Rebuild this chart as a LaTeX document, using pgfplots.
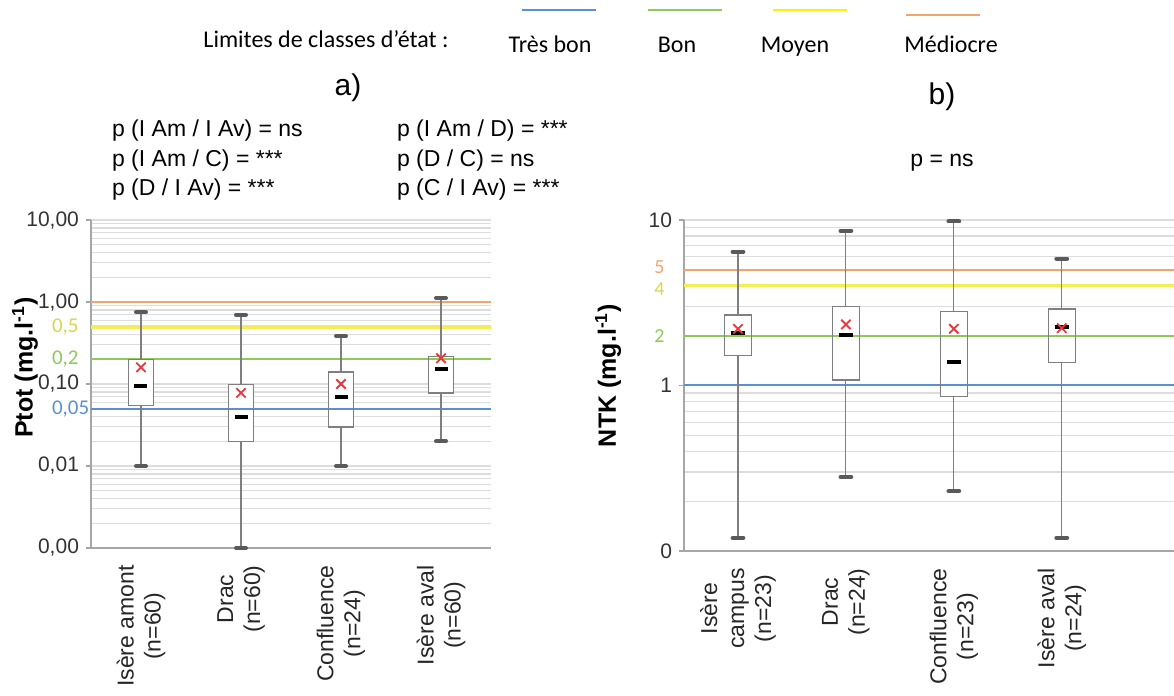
\documentclass[border=0pt]{standalone}
\usepackage{pgfplots}
\pgfplotsset{compat=1.18}
\usepackage{fontspec}
\setmainfont{Liberation Sans}
\newfontfamily\calibri{Carlito}
\definecolor{gridc}{HTML}{DDDDDD}
\definecolor{axisc}{HTML}{A6A6A6}
\definecolor{boxc}{HTML}{7F7F7F}
\definecolor{capc}{HTML}{5A5A5A}
\definecolor{meanc}{HTML}{E8383D}
\definecolor{tblue}{HTML}{5B8FD3}
\definecolor{tgreen}{HTML}{8FC95A}
\definecolor{tyellow}{HTML}{F2EE55}
\definecolor{lyellow}{HTML}{FFF200}
\definecolor{torange}{HTML}{F2A36E}

% #1 x, #2 q1, #3 q3
\newcommand{\bxfill}[3]{%
 \pgfmathsetmacro{\bxL}{#1-0.125}\pgfmathsetmacro{\bxR}{#1+0.125}%
 \edef\bxtmp{\noexpand\addplot[fill=white,draw=none,forget plot] coordinates {(\bxL,#2) (\bxR,#2) (\bxR,#3) (\bxL,#3)} -- cycle;}\bxtmp}
% #1 x, #2 lw, #3 q1, #4 med, #5 q3, #6 uw, #7 mean
\newcommand{\bxrest}[7]{%
 \pgfmathsetmacro{\bxL}{#1-0.125}\pgfmathsetmacro{\bxR}{#1+0.125}%
 \pgfmathsetmacro{\bxML}{#1-0.065}\pgfmathsetmacro{\bxMR}{#1+0.065}%
 \pgfmathsetmacro{\bxCL}{#1-0.05}\pgfmathsetmacro{\bxCR}{#1+0.05}%
 \edef\bxtmp{%
  \noexpand\addplot[draw=boxc,line width=0.7pt,forget plot] coordinates {(\bxL,#3) (\bxR,#3) (\bxR,#5) (\bxL,#5)} -- cycle;
  \noexpand\addplot[draw=boxc,line width=0.6pt,forget plot] coordinates {(#1,#2) (#1,#3)};
  \noexpand\addplot[draw=boxc,line width=0.6pt,forget plot] coordinates {(#1,#5) (#1,#6)};
  \noexpand\addplot[draw=capc,line width=2pt,line cap=round,forget plot] coordinates {(\bxCL,#2) (\bxCR,#2)};
  \noexpand\addplot[draw=capc,line width=2pt,line cap=round,forget plot] coordinates {(\bxCL,#6) (\bxCR,#6)};
  \noexpand\addplot[draw=black,line width=2pt,forget plot] coordinates {(\bxML,#4) (\bxMR,#4)};
  \noexpand\addplot[only marks,mark=x,mark size=3.3pt,mark options={draw=meanc,line width=0.9pt},forget plot] coordinates {(#1,#7)};
 }\bxtmp}

\pgfplotsset{
 panelstyle/.style={
  scale only axis, clip=false,
  axis x line*=bottom, axis y line*=left,
  axis line style={draw=axisc, line width=0.8pt, -},
  xtick={0,1,2,3}, xtick style={draw=none},
  ymajorgrids, yminorgrids,
  major grid style={draw=gridc, line width=0.6pt},
  minor grid style={draw=gridc, line width=0.6pt},
  ytick style={draw=axisc, line width=0.6pt},
  tick align=outside, major tick length=2.5pt, minor tick length=0pt,
  yticklabel style={font=\fontsize{10.5}{12}\selectfont, text=black!80},
  xticklabel style={rotate=90, anchor=east, align=center, inner xsep=6pt, font=\fontsize{11.5}{13.5}\selectfont, text=black!85},
  ylabel style={anchor=center, font=\fontsize{12.5}{14}\selectfont\bfseries},
 }
}

\begin{document}
\begin{tikzpicture}
\useasboundingbox (0,0) rectangle (587pt,348pt);

% ---------- panel a ----------
\begin{axis}[panelstyle, ymode=log, anchor=south west,
  at={(45.5pt,74pt)}, width=200pt, height=164pt,
  ymin=0.001, ymax=10, xmin=-0.5, xmax=3.5,
  xticklabels={{Isère amont\\(n=60)},{Drac\\(n=60)},{Confluence\\(n=24)},{Isère aval\\(n=60)}},
  ytick={0.001,0.01,0.1,1,10},
  yticklabels={{0,00},{0,01},{0,10},{1,00},{10,00}},
  minor ytick={0.002,0.003,0.004,0.005,0.006,0.007,0.008,0.009,0.02,0.03,0.04,0.05,0.06,0.07,0.08,0.09,0.2,0.3,0.4,0.5,0.6,0.7,0.8,0.9,2,3,4,5,6,7,8,9},
  ylabel={Ptot (mg.l\textsuperscript{-1})},
  ylabel style={at={(axis description cs:-0.165,0.55)}},
]
\bxfill{0}{0.055}{0.20}
\bxfill{1}{0.020}{0.099}
\bxfill{2}{0.030}{0.14}
\bxfill{3}{0.078}{0.215}
\addplot[draw=torange, line width=1pt, forget plot] coordinates {(-0.5,1) (3.5,1)};
\addplot[draw=tyellow, line width=2pt, forget plot] coordinates {(-0.5,0.5) (3.5,0.5)};
\addplot[draw=tgreen, line width=1pt, forget plot] coordinates {(-0.5,0.2) (3.5,0.2)};
\addplot[draw=tblue, line width=1pt, forget plot] coordinates {(-0.5,0.05) (3.5,0.05)};
\bxrest{0}{0.01}{0.055}{0.095}{0.20}{0.75}{0.16}
\bxrest{1}{0.001}{0.020}{0.040}{0.099}{0.70}{0.078}
\bxrest{2}{0.01}{0.030}{0.069}{0.14}{0.385}{0.10}
\bxrest{3}{0.020}{0.078}{0.152}{0.215}{1.12}{0.206}
\node[anchor=west, xshift=-23pt, text=tyellow!90!black, font=\calibri\fontsize{10.5}{12}\selectfont] at (axis cs:-0.5,0.5) {0,5};
\node[anchor=west, xshift=-23pt, text=tgreen, font=\calibri\fontsize{10.5}{12}\selectfont] at (axis cs:-0.5,0.2) {0,2};
\node[anchor=west, xshift=-23pt, text=tblue, font=\calibri\fontsize{10.5}{12}\selectfont] at (axis cs:-0.5,0.05) {0,05};
\end{axis}

% ---------- panel b ----------
\begin{axis}[panelstyle, ymode=log, anchor=south west,
  at={(342pt,72.5pt)}, width=245pt, height=165.5pt,
  ymin=0.1, ymax=10, xmin=-0.5, xmax=4.04,
  xticklabels={{Isère\\campus\\(n=23)},{Drac\\(n=24)},{Confluence\\(n=23)},{Isère aval\\(n=24)}},
  ytick={0.1,1,10},
  yticklabels={0,1,10},
  minor ytick={0.2,0.3,0.4,0.5,0.6,0.7,0.8,0.9,2,3,4,5,6,7,8,9},
  ylabel={NTK (mg.l\textsuperscript{-1})},
  ylabel style={at={(axis description cs:-0.155,0.53)}},
]
\bxfill{0}{1.52}{2.66}
\bxfill{1}{1.08}{3.0}
\bxfill{2}{0.855}{2.80}
\bxfill{3}{1.38}{2.90}
\addplot[draw=torange, line width=1pt, forget plot] coordinates {(-0.5,5) (4.04,5)};
\addplot[draw=tyellow, line width=1.4pt, forget plot] coordinates {(-0.5,4) (4.04,4)};
\addplot[draw=tgreen, line width=1pt, forget plot] coordinates {(-0.5,2) (4.04,2)};
\addplot[draw=tblue, line width=1pt, forget plot] coordinates {(-0.5,1) (4.04,1)};
\bxrest{0}{0.12}{1.52}{2.08}{2.66}{6.43}{2.20}
\bxrest{1}{0.28}{1.08}{2.03}{3.0}{8.61}{2.34}
\bxrest{2}{0.23}{0.855}{1.38}{2.80}{9.8}{2.20}
\bxrest{3}{0.12}{1.38}{2.26}{2.90}{5.85}{2.22}
\node[anchor=east, xshift=-8.5pt, yshift=1.2pt, inner sep=1pt, text=torange, font=\calibri\fontsize{10}{11}\selectfont] at (axis cs:-0.5,5) {5};
\node[anchor=east, xshift=-8.5pt, yshift=-1.5pt, inner sep=1pt, text=tyellow!90!black, font=\calibri\fontsize{10}{11}\selectfont] at (axis cs:-0.5,4) {4};
\node[anchor=east, xshift=-8.5pt, inner sep=1pt, text=tgreen, font=\calibri\fontsize{10}{11}\selectfont] at (axis cs:-0.5,2) {2};
\end{axis}

% ---------- header ----------
\node[anchor=base, font=\calibri\fontsize{12}{14}\selectfont] at (163pt,324pt) {Limites de classes d’état :};
\draw[tblue, line width=1pt] (261pt,343.2pt) -- (298pt,343.2pt);
\draw[tgreen, line width=1pt] (324pt,343pt) -- (361pt,343pt);
\draw[lyellow, line width=1pt] (386.5pt,343.2pt) -- (423.5pt,343.2pt);
\draw[torange, line width=1pt] (453pt,340.5pt) -- (490pt,340.5pt);
\node[anchor=base, font=\calibri\fontsize{12}{14}\selectfont] at (275pt,321.5pt) {Très bon};
\node[anchor=base, font=\calibri\fontsize{12}{14}\selectfont] at (338.5pt,321.5pt) {Bon};
\node[anchor=base, font=\calibri\fontsize{12}{14}\selectfont] at (397.5pt,321.5pt) {Moyen};
\node[anchor=base, font=\calibri\fontsize{12}{14}\selectfont] at (475.5pt,321.5pt) {Médiocre};

\node[font=\fontsize{15}{18}\selectfont] at (174pt,304pt) {a)};
\node[font=\fontsize{15}{18}\selectfont] at (471pt,299.5pt) {b)};

\node[anchor=base west, font=\fontsize{11.5}{13}\selectfont] at (52.5pt,279.5pt) {p (I Am / I Av) = ns};
\node[anchor=base west, font=\fontsize{11.5}{13}\selectfont] at (52.5pt,264.5pt) {p (I Am / C) = ***};
\node[anchor=base west, font=\fontsize{11.5}{13}\selectfont] at (52.5pt,250pt) {p (D / I Av) = ***};
\node[anchor=base west, font=\fontsize{11.5}{13}\selectfont] at (195pt,279.5pt) {p (I Am / D) = ***};
\node[anchor=base west, font=\fontsize{11.5}{13}\selectfont] at (195pt,264.5pt) {p (D / C) = ns};
\node[anchor=base west, font=\fontsize{11.5}{13}\selectfont] at (195pt,250pt) {p (C / I Av) = ***};
\node[font=\fontsize{11.5}{13}\selectfont] at (471pt,266.5pt) {p = ns};
\end{tikzpicture}
\end{document}
